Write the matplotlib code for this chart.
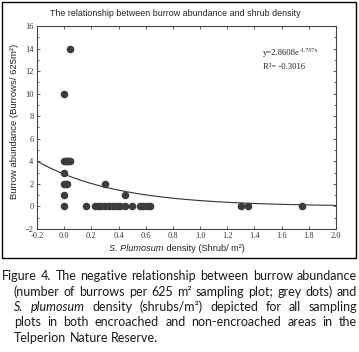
# Burrow abundance vs shrub density, with exponential fit and caption
import matplotlib
matplotlib.use('Agg')
import matplotlib.pyplot as plt
import numpy as np

# shrub density (shrubs/m2) and burrows per plot
density = [0.045, 0.0, 0.0, 0.01, 0.02, 0.03, 0.04, 0.0, 0.0, 0.01, 0.02, 0.0, 0.0,
           0.30, 0.45,
           0.16, 0.23, 0.25, 0.27, 0.30, 0.33, 0.36, 0.39, 0.41, 0.45, 0.50,
           0.56, 0.58, 0.61, 0.63, 1.30, 1.355, 1.75]
burrows = [14, 10, 4, 4, 4, 4, 4, 3, 2, 2, 2, 1, 0,
           2, 1,
           0, 0, 0, 0, 0, 0, 0, 0, 0, 0, 0,
           0, 0, 0, 0, 0, 0, 0]

# fitted curve y = a * exp(b x)
fit_a = 2.8608
fit_b = -1.707
r2_text = '-0.3016'

xticks = np.round(np.arange(-0.2, 2.01, 0.2), 1)
yticks = list(range(-2, 17, 2))

caption = [
    (0, [('Figure 4. The negative relationship between burrow abundance', 'normal')]),
    (12, [('(number of burrows per 625 m\u00b2 sampling plot; grey dots) and', 'normal')]),
    (12, [('S. plumosum', 'italic'), ('density (shrubs/m\u00b2) depicted for all sampling', 'normal')]),
    (12, [('plots in both encroached and non-encroached areas in the', 'normal')]),
    (12, [('Telperion Nature Reserve.', 'normal')]),
]

W, H = 359, 352
fig = plt.figure(figsize=(W / 100, H / 100), dpi=100)
renderer = fig.canvas.get_renderer()


def fx(x):
    return x / W


def fy(y):
    return 1 - y / H


def width_of(t):
    return t.get_window_extent(renderer).width


# outer frame around the chart
fig.patches.append(plt.Rectangle((fx(1.5), fy(258)), fx(356) - fx(1.5), fy(2) - fy(258),
                                 transform=fig.transFigure, fill=False, lw=1.0,
                                 edgecolor='black'))

ax = fig.add_axes([fx(37), fy(229), fx(336) - fx(37), fy(26) - fy(229)])
ax.scatter(density, burrows, s=30, color='#3c3c3c', linewidths=0, zorder=3)
xs = np.linspace(-0.2, 2.0, 300)
ax.plot(xs, fit_a * np.exp(fit_b * xs), color='#333333', lw=0.8)

ax.set_xlim(-0.2, 2.0)
ax.set_ylim(-2, 16)
ax.set_xticks(xticks)
ax.set_xticklabels(['%.1f' % v for v in xticks])
ax.set_yticks(yticks)
ax.set_yticks(range(-1, 16, 2), minor=True)
ax.tick_params(which='both', direction='in', top=True, right=True, colors='#444444',
               labelcolor='#333333', labelsize=6, pad=2.5, width=0.6)
ax.tick_params(which='major', length=2.5)
ax.tick_params(which='minor', length=1.5)
for lab in ax.get_xticklabels() + ax.get_yticklabels():
    lab.set_family('Liberation Serif')
for sp in ax.spines.values():
    sp.set_color('#444444')
    sp.set_linewidth(0.8)

fig.text(fx(175), fy(14), 'The relationship between burrow abundance and shrub density',
         ha='center', va='center', fontsize=6.4, family='Liberation Sans', color='#222222')
fig.text(fx(15), fy(121), 'Burrow abundance (Burrows/ 625m\u00b2)', rotation=90,
         ha='center', va='center', fontsize=6.8, family='Liberation Sans', color='#222222')

eq = fig.text(fx(263), fy(55), 'y=2.8608e', fontsize=6.2, family='Liberation Serif',
              color='#222222')
fig.text(fx(263 + width_of(eq)), fy(51.5), '-1.707x', fontsize=4.2,
         family='Liberation Serif', color='#222222')
fig.text(fx(263), fy(69), 'R\u00b2= ' + r2_text, fontsize=6.2, family='Liberation Serif',
         color='#222222')

# x label with italic species name, centred under the plot
parts = [('S. Plumosum', 'italic'), (' density (Shrub/ m\u00b2)', 'normal')]
objs = [fig.text(0, fy(251), s, fontsize=6.6, family='Liberation Sans', style=st,
                 color='#222222') for s, st in parts]
total = sum(width_of(o) for o in objs)
x = 177 - total / 2
for o in objs:
    o.set_x(fx(x))
    x += width_of(o)

# justified caption, word by word
base = 280
step = 15.5
for i, (indent, runs) in enumerate(caption):
    words = []
    for s, st in runs:
        for w in s.split(' '):
            words.append((w, st))
    y = base + i * step
    objs = [fig.text(0, fy(y), w, fontsize=9.0, family='Lato', style=st,
                     color='#1a1a1a', va='baseline') for w, st in words]
    widths = [width_of(o) for o in objs]
    left = 2 + indent
    right = 357
    if i < len(caption) - 1:
        gap = (right - left - sum(widths)) / (len(objs) - 1)
    else:
        gap = 3.3
    x = left
    for o, wd in zip(objs, widths):
        o.set_x(fx(x))
        x += wd + gap

fig.savefig('out.png', dpi=100)
